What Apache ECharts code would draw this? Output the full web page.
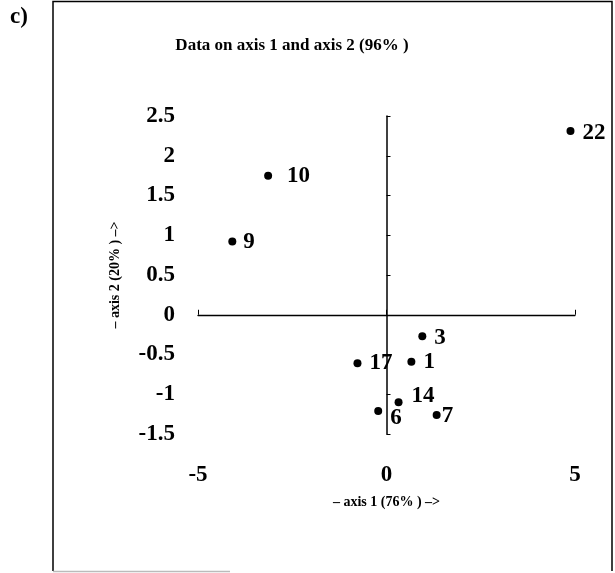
<!DOCTYPE html>
<html>
<head>
<meta charset="utf-8">
<script src="https://cdn.jsdelivr.net/npm/echarts@6/dist/echarts.min.js"></script>
<style>html,body{margin:0;padding:0;background:#fff;}#c{width:615px;height:573px;}</style>
</head>
<body>
<div id="c"></div>
<script>
// ---- data ----
const pointNames = ['22', '10', '9', '3', '17', '1', '14', '6', '7'];
const axis1Values = [4.88, -3.14, -4.09, 0.95, -0.77, 0.66, 0.32, -0.22, 1.33];
const axis2Values = [2.31, 1.75, 0.92, -0.27, -0.61, -0.59, -1.10, -1.21, -1.26];
const xTicks = [-5, 0, 5];
const yTicks = [-1.5, -1, -0.5, 0, 0.5, 1, 1.5, 2, 2.5];
const titleText = 'Data on axis 1 and axis 2 (96% )';
const xName = '\u2013 axis 1 (76% ) \u2013>';
const yName = '\u2013 axis 2 (20% ) \u2013>';

// ---- label styling (offsets from dot, px) ----
const labelOffsets = {
  '22': [8, 2], '10': [15, 0], '9': [7, 0], '3': [8, 2], '17': [8, 0],
  '1': [8, 0], '14': [9, -6], '6': [8, 7], '7': [1, 1]
};

const FONT = "'Liberation Serif', 'Times New Roman', serif";
const chart = echarts.init(document.getElementById('c'));

const data = pointNames.map((n, i) => ({
  name: n,
  value: [axis1Values[i], axis2Values[i]],
  label: { offset: labelOffsets[n] || [8, 0] }
}));

const fmt = v => (v < 0 ? '-' + Math.abs(v) : String(v));

chart.setOption({
  animation: false,
  backgroundColor: '#fff',
  title: {
    text: titleText,
    left: 287, top: 32, textAlign: 'center',
    textStyle: { fontFamily: FONT, fontWeight: 'bold', fontSize: 17, color: '#000' }
  },
  grid: { left: 198, right: 40, top: 116, bottom: 139 },
  xAxis: [
    {
      type: 'value', min: xTicks[0], max: xTicks[xTicks.length - 1], interval: 5,
      axisLine: { show: true, onZero: true, onZeroAxisIndex: 0, lineStyle: { color: '#000', width: 1.3 } },
      axisTick: { show: true, inside: true, length: 5, lineStyle: { color: '#000' } },
      axisLabel: { show: false }, splitLine: { show: false }
    },
    {
      type: 'value', position: 'bottom', min: xTicks[0], max: xTicks[xTicks.length - 1], interval: 5,
      axisLine: { show: false, onZero: false }, axisTick: { show: false }, splitLine: { show: false },
      axisLabel: { show: true, margin: 30, fontFamily: FONT, fontWeight: 'bold', fontSize: 23, color: '#000', formatter: fmt },
      name: xName, nameLocation: 'middle', nameGap: 61,
      nameTextStyle: { fontFamily: FONT, fontWeight: 'bold', fontSize: 14, color: '#000' }
    }
  ],
  yAxis: [
    {
      type: 'value', min: yTicks[0], max: yTicks[yTicks.length - 1], interval: 0.5,
      axisLine: { show: true, onZero: true, onZeroAxisIndex: 0, lineStyle: { color: '#000', width: 1.5 } },
      axisTick: { show: true, inside: true, length: 4, lineStyle: { color: '#000' } },
      axisLabel: { show: false }, splitLine: { show: false }
    },
    {
      type: 'value', position: 'left', min: yTicks[0], max: yTicks[yTicks.length - 1], interval: 0.5,
      axisLine: { show: false, onZero: false }, axisTick: { show: false }, splitLine: { show: false },
      axisLabel: { show: true, margin: 23, fontFamily: FONT, fontWeight: 'bold', fontSize: 23, color: '#000', formatter: fmt },
      name: yName, nameLocation: 'middle', nameGap: 76, nameRotate: 90,
      nameTextStyle: { fontFamily: FONT, fontWeight: 'bold', fontSize: 14, color: '#000' }
    }
  ],
  series: [{
    type: 'scatter', xAxisIndex: 0, yAxisIndex: 0,
    symbol: 'circle', symbolSize: 8, clip: false,
    itemStyle: { color: '#000', opacity: 1 },
    label: {
      show: true, position: 'right', distance: 0,
      formatter: p => p.name,
      fontFamily: FONT, fontWeight: 'bold', fontSize: 23, color: '#000', opacity: 1
    },
    data: data
  }],
  graphic: [
    { type: 'text', left: 10, top: 6,
      style: { text: 'c)', font: "bold 23px " + FONT, fill: '#000' } },
    { type: 'polyline', shape: { points: [[53, 571], [53, 1.5], [612, 1.5], [612, 571]] },
      style: { stroke: '#000', lineWidth: 1.5, fill: null } },
    { type: 'line', shape: { x1: 53, y1: 571.5, x2: 230, y2: 571.5 },
      style: { stroke: '#bbb', lineWidth: 1.5 } }
  ]
});
</script>
</body>
</html>
